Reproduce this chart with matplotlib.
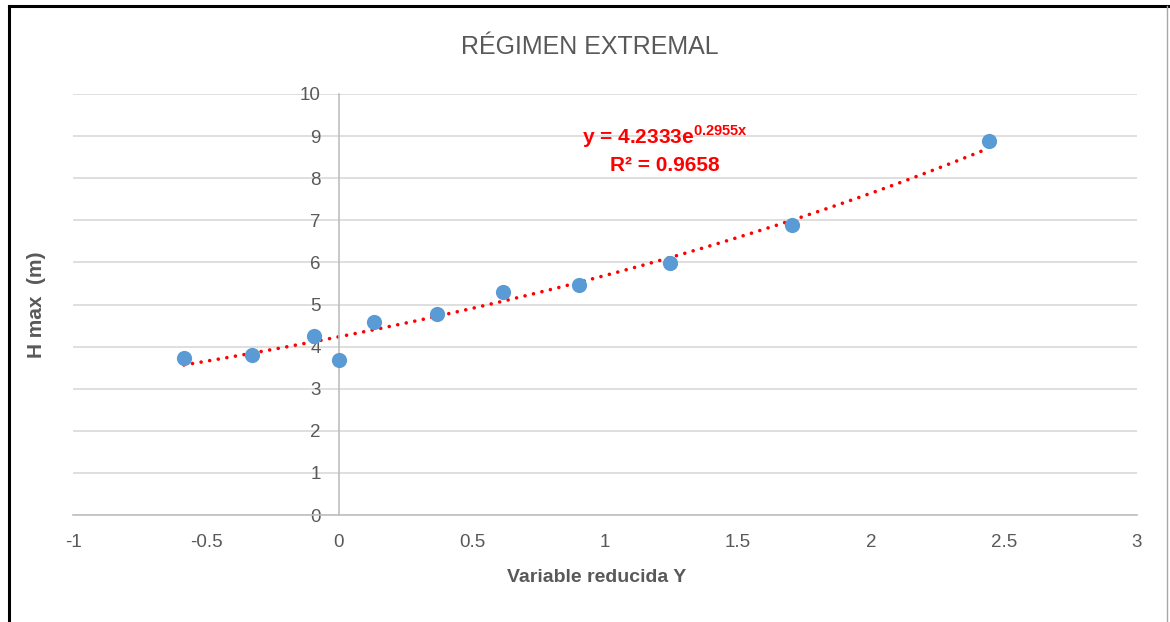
import numpy as np
import matplotlib.pyplot as plt
from matplotlib.lines import Line2D

# reduced variate Y and maximum wave height (m)
variable_y = [-0.583, -0.327, -0.094, 0.0, 0.133, 0.367, 0.618, 0.903, 1.246, 1.702, 2.442]
h_max = [3.73, 3.80, 4.25, 3.68, 4.58, 4.77, 5.30, 5.46, 5.99, 6.89, 8.88]

# exponential trendline shown on the chart
coef_a = 4.2333
coef_b = 0.2955
r2 = 0.9658

x_ticks = [-1, -0.5, 0, 0.5, 1, 1.5, 2, 2.5, 3]
x_tick_labels = ["-1", "-0.5", "0", "0.5", "1", "1.5", "2", "2.5", "3"]
y_ticks = list(range(0, 11))

plt.rcParams["font.family"] = ["Liberation Sans", "DejaVu Sans"]
plt.rcParams["mathtext.fontset"] = "custom"
plt.rcParams["mathtext.rm"] = "Liberation Sans"
plt.rcParams["mathtext.bf"] = "Liberation Sans:bold"

gray_text = "#595959"
grid_col = "#D9D9D9"
axis_col = "#BFBFBF"

fig = plt.figure(figsize=(11.7, 6.22), dpi=100)
ax = fig.add_axes([73 / 1170, 1 - 515 / 622, (1137 - 73) / 1170, (515 - 94) / 622])

ax.set_xlim(-1, 3)
ax.set_ylim(0, 10)
ax.set_xticks(x_ticks)
ax.set_xticklabels(x_tick_labels)
ax.set_yticks(y_ticks)

ax.grid(axis="y", color=grid_col, linewidth=1.2)
ax.set_axisbelow(True)

for side in ["top", "right"]:
    ax.spines[side].set_visible(False)
ax.spines["left"].set_position(("data", 0))
ax.spines["left"].set_color(axis_col)
ax.spines["bottom"].set_color(axis_col)
ax.spines["left"].set_linewidth(1.2)
ax.spines["bottom"].set_linewidth(1.2)

ax.tick_params(axis="both", length=0, labelsize=13.5, labelcolor=gray_text)
ax.tick_params(axis="y", pad=13)
ax.tick_params(axis="x", pad=14)

# trendline over the data range
xt = np.linspace(min(variable_y), max(variable_y), 200)
yt = coef_a * np.exp(coef_b * xt)
ax.plot(xt, yt, color="#FF0000", linewidth=2.6, dashes=(0.01, 2.4),
        dash_capstyle="round", zorder=2)

ax.scatter(variable_y, h_max, s=120, color="#5B9BD5", zorder=3, linewidths=0)

ax.text(1.226, 8.98, "y = " + f"{coef_a:.4f}" + r"e$^{\mathbf{" + f"{coef_b:.4f}" + r"x}}$",
        color="#FF0000", fontsize=15, fontweight="bold", ha="center", va="center")
ax.text(1.226, 8.29, "R² = " + f"{r2:.4f}", color="#FF0000", fontsize=15,
        fontweight="bold", ha="center", va="center")

fig.text(590 / 1170, 1 - 47 / 622, "RÉGIMEN EXTREMAL", fontsize=18,
         color=gray_text, ha="center", va="center")
fig.text(597 / 1170, 1 - 578 / 622, "Variable reducida Y", fontsize=14,
         fontweight="bold", color=gray_text, ha="center", va="center")
fig.text(37 / 1170, 1 - 305 / 622, "H max  (m)", fontsize=15, rotation=90,
         fontweight="bold", color=gray_text, ha="center", va="center")

# outer frame of the chart
fig.add_artist(Line2D([9 / 1170, 9 / 1170], [0, 1 - 6 / 622], color="black", linewidth=2.2))
fig.add_artist(Line2D([9 / 1170, 1], [1 - 6 / 622, 1 - 6 / 622], color="black", linewidth=2.2))
fig.add_artist(Line2D([1167 / 1170, 1167 / 1170], [0, 1 - 6 / 622], color="#A6A6A6", linewidth=1.0))

fig.savefig("out.png", dpi=100)
